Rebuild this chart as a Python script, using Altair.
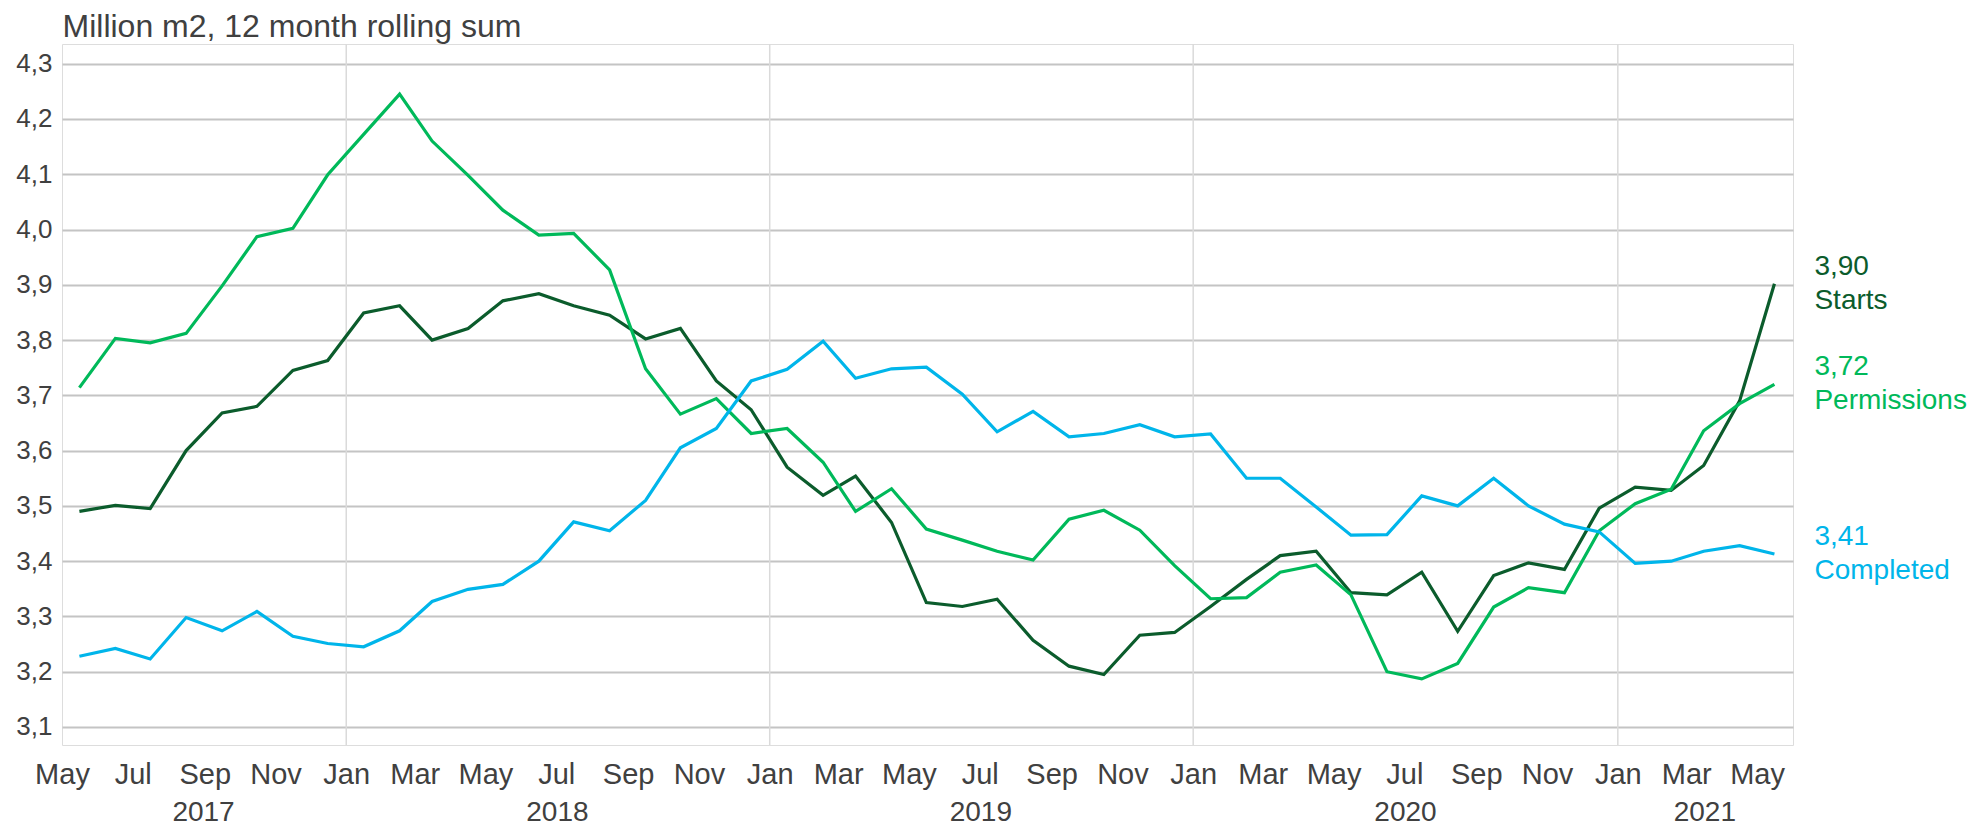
import altair as alt
import pandas as pd

# ---- data -------------------------------------------------------------
months = [d.strftime("%Y-%m-16") for d in pd.date_range("2017-05-01", "2021-05-01", freq="MS")]

series_names = ["Starts", "Permissions", "Completed"]
series_colors = ["#0b5c2c", "#00b95a", "#00b5ea"]

starts = [3.490, 3.501, 3.495, 3.600, 3.668, 3.680, 3.745, 3.763,
          3.849, 3.862, 3.800, 3.821, 3.871, 3.884, 3.862, 3.845, 3.802, 3.821, 3.726, 3.674,
          3.570, 3.519, 3.554, 3.470, 3.325, 3.318, 3.331, 3.257, 3.210, 3.195, 3.266, 3.271,
          3.318, 3.367, 3.410, 3.418, 3.343, 3.339, 3.380, 3.273, 3.374, 3.397, 3.385, 3.496,
          3.534, 3.528, 3.573, 3.690, 3.902]

permissions = [3.714, 3.803, 3.795, 3.812, 3.898, 3.987, 4.002, 4.099,
               4.172, 4.245, 4.160, 4.098, 4.035, 3.990, 3.993, 3.927, 3.748, 3.666, 3.694, 3.631,
               3.640, 3.579, 3.490, 3.531, 3.458, 3.438, 3.418, 3.402, 3.476, 3.492, 3.456, 3.392,
               3.332, 3.334, 3.380, 3.393, 3.339, 3.200, 3.187, 3.215, 3.317, 3.352, 3.343, 3.455,
               3.504, 3.530, 3.636, 3.685, 3.720]

completed = [3.228, 3.242, 3.223, 3.298, 3.274, 3.309, 3.264, 3.251,
             3.245, 3.274, 3.327, 3.349, 3.358, 3.400, 3.471, 3.455, 3.510, 3.605, 3.640, 3.726,
             3.747, 3.798, 3.731, 3.748, 3.751, 3.702, 3.634, 3.671, 3.625, 3.631, 3.647, 3.625,
             3.630, 3.550, 3.550, 3.498, 3.447, 3.448, 3.518, 3.500, 3.550, 3.500, 3.467, 3.453,
             3.396, 3.400, 3.418, 3.428, 3.413]

y_ticks = [3.1, 3.2, 3.3, 3.4, 3.5, 3.6, 3.7, 3.8, 3.9, 4.0, 4.1, 4.2, 4.3]
x_label_months = [d.strftime("%Y-%m-01") for d in pd.date_range("2017-05-01", "2021-05-01", freq="2MS")]
year_starts = ["2018-01-01", "2019-01-01", "2020-01-01", "2021-01-01"]
years = [2017, 2018, 2019, 2020, 2021]
title_text = "Million m2, 12 month rolling sum"

x_domain = ["2017-05-01", "2021-06-01"]
y_domain = [3.0674, 4.3356]

FONT = "Liberation Sans"
TXT = "#404040"

# ---- tables -----------------------------------------------------------
rows = []
for name, vals in zip(series_names, [starts, permissions, completed]):
    for m, v in zip(months, vals):
        rows.append({"date": m, "value": v, "series": name})
df = pd.DataFrame(rows)

last = pd.DataFrame({
    "date": [months[-1]] * 3,
    "value": [starts[-1], permissions[-1], completed[-1]],
    "series": series_names,
})
last["label"] = [f"{v:.2f}".replace(".", ",") + "\n" + s for v, s in zip(last["value"], last["series"])]

dstart, dend = pd.Timestamp(x_domain[0]), pd.Timestamp(x_domain[1])
ymid = []
for yr in years:
    a = max(pd.Timestamp(f"{yr}-01-01"), dstart)
    b = min(pd.Timestamp(f"{yr + 1}-01-01"), dend)
    ymid.append((a + (b - a) / 2).strftime("%Y-%m-%d"))
years_df = pd.DataFrame({"date": ymid, "year": [str(y) for y in years]})
jan_df = pd.DataFrame({"date": year_starts})


def dt(s):
    t = pd.Timestamp(s)
    return alt.DateTime(year=t.year, month=t.month, date=t.day, utc=True)


xscale = alt.Scale(type="utc", domain=[dt(x_domain[0]), dt(x_domain[1])])
yscale = alt.Scale(domain=y_domain, nice=False, zero=False)
cscale = alt.Scale(domain=series_names, range=series_colors)

x_axis = alt.Axis(
    values=[dt(s) for s in x_label_months],
    format="%b",
    grid=False,
    ticks=False,
    domain=False,
    labelFontSize=29,
    labelFont=FONT,
    labelColor=TXT,
    labelPadding=15,
    labelOverlap=False,
    labelFlush=False,
    title=None,
)
y_axis = alt.Axis(
    values=y_ticks,
    labelExpr="replace(format(datum.value, '.1f'), '.', ',')",
    grid=True,
    gridColor="#c4c4c4",
    gridWidth=2,
    ticks=False,
    domain=False,
    labelFontSize=26,
    labelFont=FONT,
    labelColor=TXT,
    labelPadding=10,
    title=title_text,
    titleAngle=0,
    titleAlign="left",
    titleBaseline="alphabetic",
    titleX=0,
    titleY=-8,
    titleFontSize=32,
    titleFontWeight="normal",
    titleFont=FONT,
    titleColor=TXT,
)

X = alt.X("date:T", scale=xscale, axis=x_axis)
Y = alt.Y("value:Q", scale=yscale, axis=y_axis)

jan_rules = alt.Chart(jan_df).mark_rule(color="#dadada", strokeWidth=1.5).encode(x=X)

lines = alt.Chart(df).mark_line(strokeWidth=3.2).encode(
    x=X,
    y=Y,
    color=alt.Color("series:N", scale=cscale, legend=None),
    detail="series:N",
)

labels = alt.Chart(last).mark_text(
    align="left", baseline="middle", dx=40, dy=-17, fontSize=28, font=FONT,
    lineBreak="\n", lineHeight=34,
).encode(
    x=X,
    y=Y,
    text="label:N",
    color=alt.Color("series:N", scale=cscale, legend=None),
)

year_text = alt.Chart(years_df).mark_text(
    align="center", baseline="alphabetic", fontSize=28, font=FONT, color=TXT
).encode(
    x=X,
    y=alt.value(777),
    text="year:N",
)

chart = alt.layer(jan_rules, lines, labels, year_text).properties(
    width=1731,
    height=701,
    autosize=alt.AutoSizeParams(type="none"),
    padding={"left": 54, "top": 36, "right": 176, "bottom": 82},
).configure_view(stroke="#d0d0d0", strokeWidth=1.5).configure(background="white")

chart.save("out.html", embed_options={"renderer": "svg", "actions": False})
